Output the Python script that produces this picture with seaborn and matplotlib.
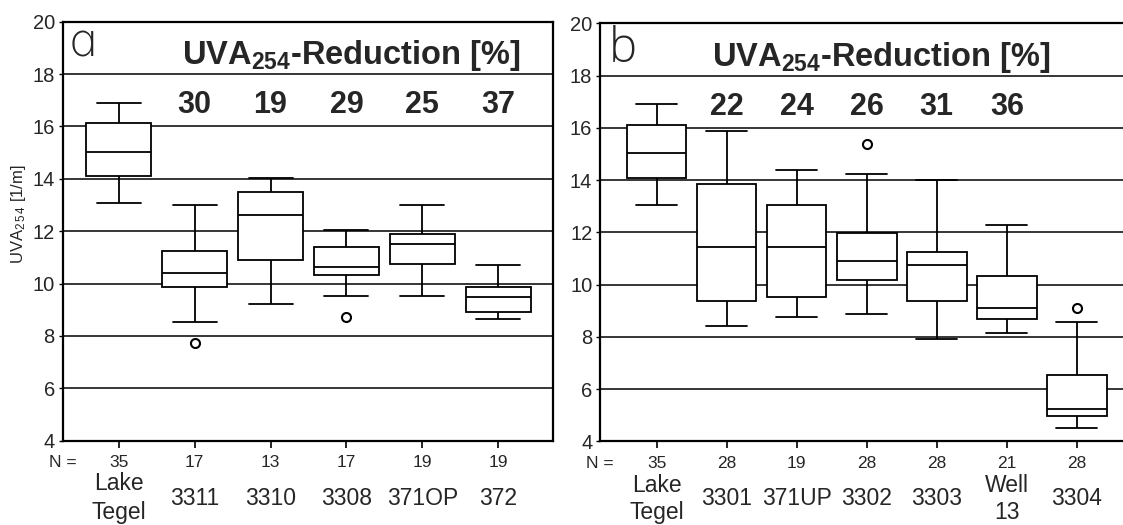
import numpy as np
import pandas as pd
import matplotlib
matplotlib.use("Agg")
import matplotlib.pyplot as plt
import seaborn as sns

# ---- Panel a: Lake Tegel and the wells of transect a ----
stations_a = ["Lake\nTegel", "3311", "3310", "3308", "371OP", "372"]
n_a = [35, 17, 13, 17, 19, 19]
whislo_a = [13.07, 8.55, 9.21, 9.53, 9.53, 8.66]
q1_a = [14.11, 9.88, 10.90, 10.34, 10.76, 8.93]
med_a = [15.01, 10.40, 12.62, 10.65, 11.52, 9.48]
q3_a = [16.12, 11.24, 13.49, 11.41, 11.91, 9.87]
whishi_a = [16.88, 13.00, 14.04, 12.05, 13.00, 10.70]
outlier_station_a = ["3311", "3308"]
outlier_value_a = [7.73, 8.72]
reduction_a = [30, 19, 29, 25, 37]          # stations_a[1:]

# ---- Panel b: Lake Tegel and the wells of transect b ----
stations_b = ["Lake\nTegel", "3301", "371UP", "3302", "3303", "Well\n13", "3304"]
n_b = [35, 28, 19, 28, 28, 21, 28]
whislo_b = [13.04, 8.42, 8.76, 8.86, 7.93, 8.14, 4.52]
q1_b = [14.09, 9.36, 9.52, 10.18, 9.36, 8.69, 4.97]
med_b = [15.02, 11.45, 11.45, 10.90, 10.74, 9.10, 5.22]
q3_b = [16.12, 13.84, 13.04, 11.96, 11.24, 10.34, 6.54]
whishi_b = [16.90, 15.87, 14.37, 14.22, 14.00, 12.28, 8.58]
outlier_station_b = ["3302", "3304"]
outlier_value_b = [15.37, 9.09]
reduction_b = [22, 24, 26, 31, 36]          # stations_b[1:6]

y_ticks = [4, 6, 8, 10, 12, 14, 16, 18, 20]

sns.set_theme(style="white")
plt.rcParams["font.family"] = ["Liberation Sans", "DejaVu Sans"]
plt.rcParams["mathtext.fontset"] = "custom"
plt.rcParams["mathtext.rm"] = "Liberation Sans"
plt.rcParams["mathtext.bf"] = "Liberation Sans:bold"
plt.rcParams["mathtext.it"] = "Liberation Sans:italic"

W, H = 1123, 525
fig = plt.figure(figsize=(W / 100, H / 100), dpi=100)
fig.patch.set_facecolor("white")


def px_box(left, top, right, bottom):
    return [left / W, 1 - bottom / H, (right - left) / W, (bottom - top) / H]


ax_a = fig.add_axes(px_box(62.5, 21.7, 553, 440.7))
ax_b = fig.add_axes(px_box(600, 23.3, 1123, 441.3))


def draw_panel(ax, stations, n, lo, q1, med, q3, hi, out_st, out_val,
               reduction, letter, letter_xy, title_x, xlim, name_spacing):
    df = pd.DataFrame({
        "station": np.repeat(stations, 5),
        "value": np.column_stack([lo, q1, med, q3, hi]).ravel(),
    })
    ax.set_axisbelow(True)
    ax.yaxis.grid(True, color="black", linewidth=1.1)
    ax.xaxis.grid(False)

    sns.boxplot(data=df, x="station", y="value", order=stations,
                whis=(0, 100), showfliers=False, width=0.85,
                color="white", linecolor="black", linewidth=1.3,
                capwidths=0.58, ax=ax)
    sns.stripplot(x=out_st, y=out_val, order=stations, jitter=False,
                  marker="o", size=6.5, color="white", edgecolor="black",
                  linewidth=1.5, ax=ax, zorder=5)

    ax.set_xlim(*xlim)
    ax.set_ylim(4, 20)
    ax.set_yticks(y_ticks)
    ax.set_yticklabels([str(t) for t in y_ticks])
    ax.set_xticks(range(len(stations)))
    ax.set_xticklabels([])
    ax.set_xlabel("")
    ax.set_ylabel("")
    ax.tick_params(axis="y", length=3, width=1, color="black",
                   labelsize=14.5, pad=2.5, left=True)
    ax.tick_params(axis="x", length=5, width=1.2, color="black",
                   bottom=True, labelbottom=False)
    for side in ["left", "bottom", "top", "right"]:
        ax.spines[side].set_color("black")
        ax.spines[side].set_linewidth(1.6)

    # sample counts and station names below the axis
    xa = ax.get_xaxis_transform()
    ax.annotate("N =", xy=(0, 0), xycoords="axes fraction",
                xytext=(0, -15.8), textcoords="offset points",
                ha="center", va="center", fontsize=12.5)
    for i, (st, cnt) in enumerate(zip(stations, n)):
        ax.annotate(str(cnt), xy=(i, 0), xycoords=xa,
                    xytext=(0, -15.8), textcoords="offset points",
                    ha="center", va="center", fontsize=12.5)
        ax.annotate(st, xy=(i, 0), xycoords=xa,
                    xytext=(0, -41.5), textcoords="offset points",
                    ha="center", va="center", fontsize=16.5,
                    linespacing=name_spacing, annotation_clip=False)

    # reduction percentages above the wells
    for i, r in enumerate(reduction):
        ax.text(i + 1, 16.5, str(r), ha="center", va="baseline",
                fontsize=22, fontweight="bold")

    ax.text(title_x, 18.38, r"UVA$_{\mathbf{254}}$-Reduction [%]",
            ha="center", va="baseline", fontsize=23.5, fontweight="bold")
    ax.text(letter_xy[0], letter_xy[1], letter, ha="left", va="baseline",
            fontsize=34, fontweight="light",
            family=["Open Sans", "DejaVu Sans"])


draw_panel(ax_a, stations_a, n_a, whislo_a, q1_a, med_a, q3_a, whishi_a,
           outlier_station_a, outlier_value_a, reduction_a,
           "\u0251", (-0.68, 18.66), 3.06, (-0.74, 5.72), 1.35)
draw_panel(ax_b, stations_b, n_b, whislo_b, q1_b, med_b, q3_b, whishi_b,
           outlier_station_b, outlier_value_b, reduction_b,
           "b", (-0.68, 18.53), 3.21, (-0.81, 6.66), 1.2)
ax_b.spines["right"].set_visible(False)

fig.text(19 / W, 1 - 214 / H, r"UVA$_{2\,5\,4}$ [1/m]", rotation=90,
         ha="center", va="center", fontsize=12)

fig.savefig("out.png", dpi=100, facecolor="white")
